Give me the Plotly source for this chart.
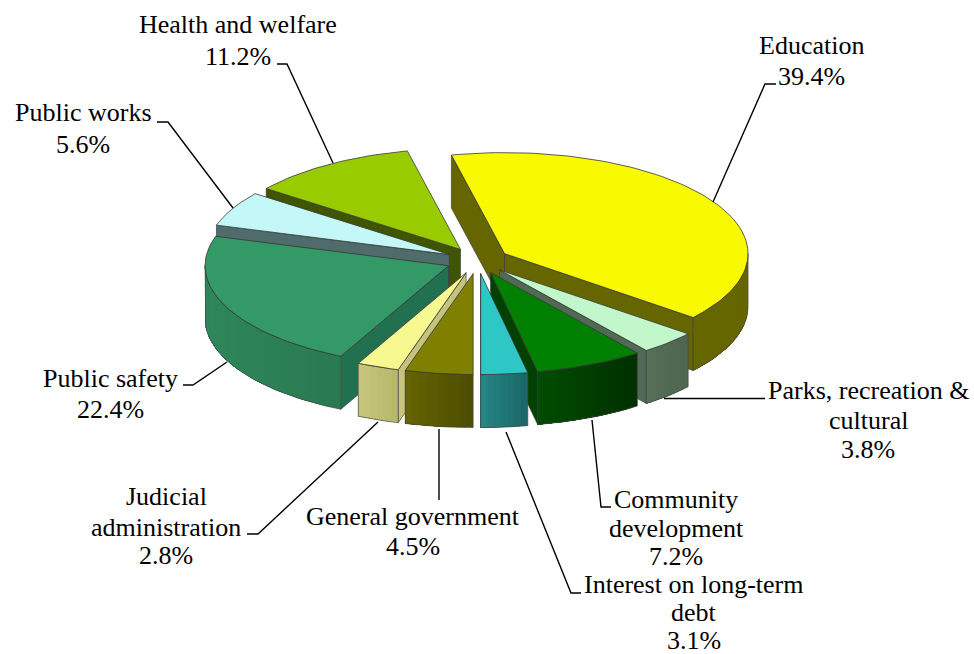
import math
import plotly.graph_objects as go

# ---- data -------------------------------------------------------------
categories = ["Education", "Parks, recreation & cultural", "Community development",
              "Interest on long-term debt", "General government",
              "Judicial administration", "Public safety", "Public works",
              "Health and welfare"]
shares = [39.4, 3.8, 7.2, 3.1, 4.5, 2.8, 22.4, 5.6, 11.2]
share_labels = ["39.4%", "3.8%", "7.2%", "3.1%", "4.5%", "2.8%", "22.4%", "5.6%", "11.2%"]

# ---- styles (top, start/end wall, rim-left, rim-right) ------------------
top_colors = ["#F9F900", "#C1F7CA", "#008000", "#2FC6C6", "#808000", "#F8F890", "#339966", "#C4F8F8", "#99CC00"]
side_colors = ["#666600", "#526A55", "#004000", "#1E7070", "#5C5C00", "#C4C47C", "#217050", "#4F6B6B", "#3F5500"]
rim_left = ["#666600", "#56705A", "#004D00", "#288A8A", "#666600", "#C8C880", "#2E8759", "#4F6B6B", "#3F5500"]
rim_right = ["#666600", "#4E664F", "#003000", "#1A6868", "#4E4E00", "#B8B86C", "#297A52", "#4F6B6B", "#3F5500"]
draw_order = [8, 7, 6, 0, 1, 2, 3, 5, 4]

# ---- label layout: one list of lines per category -----------------------
label_lines = [["Education"], ["Parks, recreation &", "cultural"], ["Community", "development"],
               ["Interest on long-term", "debt"], ["General government"],
               ["Judicial", "administration"], ["Public safety"], ["Public works"],
               ["Health and welfare"]]
label_cx = [811, 868, 676, 694, 413, 166, 110, 83, 238]
label_base = [[53, 84], [398, 428, 457], [507, 536, 564], [592, 620, 648.5], [524, 554],
              [504, 535, 563], [386, 417], [120, 152], [32, 64]]
leader_x = [[713, 765, 776], [664, 765], [592, 601, 611], [506, 571, 581], [439, 439],
            [378, 258, 247], [227, 193, 183], [233, 168, 157], [333, 287, 277]]
leader_y = [[202, 84, 84], [398.5, 398.5], [420, 507, 507], [432, 593, 593], [429, 500],
            [422, 534, 534], [362, 385, 385], [208, 122, 122], [163, 64, 64]]

# ---- projection of the tilted pie --------------------------------------
CX, CY, RX, RY = 477.6, 260.5, 243.5, 101.0
DEPTH, EXPLODE, START = 53.0, 0.13, -12.6
FONT = "Liberation Serif, Times New Roman, serif"
FS = 26


def hex_mix(a, b, t):
    ca = [int(a[i:i + 2], 16) for i in (1, 3, 5)]
    cb = [int(b[i:i + 2], 16) for i in (1, 3, 5)]
    return "rgb(%d,%d,%d)" % tuple(round(p + (q - p) * t) for p, q in zip(ca, cb))


def polar(deg, r=1.0):
    a = math.radians(deg)
    return RX * r * math.sin(a), -RY * r * math.cos(a)


fig = go.Figure()


def poly(xs, ys, fill, line, width=1.0):
    fig.add_trace(go.Scatter(x=list(xs) + [xs[0]], y=list(ys) + [ys[0]], mode="lines", fill="toself",
                             fillcolor=fill, line=dict(color=line, width=width),
                             hoverinfo="skip", showlegend=False))


total = sum(shares)
edges = [START]
for v in shares:
    edges.append(edges[-1] + v / total * 360)

EDGE = "rgba(55,55,55,0.8)"
RIM_EDGE = "rgba(70,70,70,0.75)"
for i in draw_order:
    a0, a1 = edges[i], edges[i + 1]
    mid = (a0 + a1) / 2
    ox, oy = polar(mid, EXPLODE)
    ax, ay = CX + ox, CY + oy
    n = max(6, int((a1 - a0) / 1.5))
    arc = [a0 + (a1 - a0) * k / n for k in range(n + 1)]
    px = [ax + polar(d)[0] for d in arc]
    py = [ay + polar(d)[1] for d in arc]

    # radial walls that face the viewer
    if math.sin(math.radians(a0)) < 0:
        poly([ax, px[0], px[0], ax], [ay, py[0], py[0] + DEPTH, ay + DEPTH], side_colors[i], EDGE, 0.8)
    if math.sin(math.radians(a1)) > 0:
        poly([ax, px[-1], px[-1], ax], [ay, py[-1], py[-1] + DEPTH, ay + DEPTH], side_colors[i], EDGE, 0.8)

    # outer wall: only the part of the rim turned to the viewer; each strip
    # runs on to the end of the rim, so later strips leave no seams
    near = [k for k, d in enumerate(arc) if math.cos(math.radians(d)) < 0.02]
    if len(near) >= 2:
        rx = [px[k] for k in near]
        ry = [py[k] for k in near]
        lo, hi = min(px), max(px)
        step = max(1, len(near) // 20)
        for s in range(0, len(near) - 1, step):
            t = (rx[s] - lo) / max(hi - lo, 1)
            col = hex_mix(rim_left[i], rim_right[i], t)
            poly(rx[s:] + rx[s:][::-1],
                 ry[s:] + [y + DEPTH for y in ry[s:][::-1]], col, "rgba(0,0,0,0)", 0)
        fig.add_trace(go.Scatter(x=rx + rx[::-1] + [rx[0]],
                                 y=ry + [y + DEPTH for y in ry[::-1]] + [ry[0]],
                                 mode="lines", line=dict(color=RIM_EDGE, width=0.9),
                                 hoverinfo="skip", showlegend=False))
    # top face
    poly([ax] + px, [ay] + py, top_colors[i], EDGE, 1.0)

# leader lines
for lx, ly in zip(leader_x, leader_y):
    fig.add_trace(go.Scatter(x=lx, y=ly, mode="lines", line=dict(color="#000000", width=1.4),
                             hoverinfo="skip", showlegend=False))

# labels
annotations = []
for lines, pct, cx, bases in zip(label_lines, share_labels, label_cx, label_base):
    for txt, base in zip(lines + [pct], bases):
        annotations.append(dict(x=cx, y=base - 0.29 * FS, text=txt, showarrow=False, xanchor="center",
                                yanchor="middle", xref="x", yref="y",
                                font=dict(family=FONT, size=FS, color="#000000")))

fig.update_layout(width=974, height=654, margin=dict(l=0, r=0, t=0, b=0),
                  paper_bgcolor="white", plot_bgcolor="white", showlegend=False,
                  xaxis=dict(range=[0, 974], visible=False, fixedrange=True),
                  yaxis=dict(range=[654, 0], visible=False, fixedrange=True),
                  annotations=annotations)
fig.write_html("out.html", config=dict(displayModeBar=False),
               post_script="document.body.style.margin='0';document.body.style.overflow='hidden';")
